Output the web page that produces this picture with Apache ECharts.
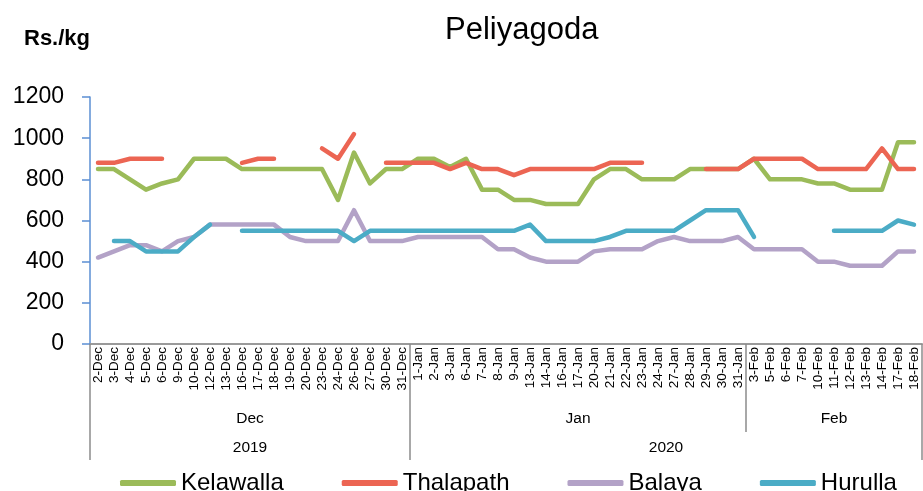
<!DOCTYPE html>
<html>
<head>
<meta charset="utf-8">
<script src="https://cdn.jsdelivr.net/npm/echarts@6/dist/echarts.min.js"></script>
<style>
  html, body { margin: 0; padding: 0; background: #fff; }
  #chart { width: 923px; height: 491px; }
</style>
</head>
<body>
<div id="chart"></div>
<script>
// dates on the axis
var dates = [
    '2-Dec','3-Dec','4-Dec','5-Dec','6-Dec','9-Dec','10-Dec','12-Dec','13-Dec','16-Dec',
    '17-Dec','18-Dec','19-Dec','20-Dec','23-Dec','24-Dec','26-Dec','27-Dec','30-Dec','31-Dec',
    '1-Jan','2-Jan','3-Jan','6-Jan','7-Jan','8-Jan','9-Jan','13-Jan','14-Jan','16-Jan',
    '17-Jan','20-Jan','21-Jan','22-Jan','23-Jan','24-Jan','27-Jan','28-Jan','29-Jan','30-Jan','31-Jan',
    '3-Feb','5-Feb','6-Feb','7-Feb','10-Feb','11-Feb','12-Feb','13-Feb','14-Feb','17-Feb','18-Feb'
];
var months = ['Dec', 'Jan', 'Feb'];
var monthCounts = [20, 21, 11];
var years = ['2019', '2020'];
var yearCounts = [20, 32];

// prices Rs./kg
var kelawalla = [
    850,850,800,750,780,800,900,900,900,850,850,850,850,850,850,700,930,780,850,850,
    900,900,860,900,750,750,700,700,680,680,680,800,850,850,800,800,800,850,850,850,850,
    900,800,800,800,780,780,750,750,750,980,980
];
var thalapath = [
    880,880,900,900,900,null,null,null,null,880,900,900,null,null,950,900,1020,null,880,880,
    880,880,850,880,850,850,820,850,850,850,850,850,880,880,880,null,null,null,850,850,850,
    900,900,900,900,850,850,850,850,950,850,850
];
var balaya = [
    420,450,480,480,450,500,520,580,580,580,580,580,520,500,500,500,650,500,500,500,
    520,520,520,520,520,460,460,420,400,400,400,450,460,460,460,500,520,500,500,500,520,
    460,460,460,460,400,400,380,380,380,450,450
];
var hurulla = [
    null,500,500,450,450,450,520,580,null,550,550,550,550,550,550,550,500,550,550,550,
    550,550,550,550,550,550,550,580,500,500,500,500,520,550,550,550,550,600,650,650,650,
    520,null,null,null,null,550,550,550,550,600,580
];

var names = ['Kelawalla', 'Thalapath', 'Balaya', 'Hurulla'];
var colors = ['#9bbb59', '#ec6553', '#b3a2c7', '#4bacc6'];
var values = [kelawalla, thalapath, balaya, hurulla];

var font = 'Liberation Sans';
var gridLeft = 90, gridRight = 1;
var band = (923 - gridLeft - gridRight) / dates.length;

// group boundaries and label slots (label goes on floor(middle), shifted by the rest)
function groups(labels, counts) {
    var starts = {}, mids = {};
    var s = 0;
    for (var i = 0; i < counts.length; i++) {
        starts[s] = true;
        var m = s + (counts[i] - 1) / 2;
        mids[Math.floor(m)] = { text: labels[i], shift: (m - Math.floor(m)) * band };
        s += counts[i];
    }
    return { starts: starts, mids: mids };
}
var monthG = groups(months, monthCounts);
var yearG = groups(years, yearCounts);

function groupAxis(g, tickLen, labelMargin) {
    return {
        type: 'category',
        gridIndex: 0,
        position: 'bottom',
        offset: 0,
        data: dates,
        axisLine: { show: false },
        axisTick: {
            show: true,
            length: tickLen,
            interval: function (index) { return !!g.starts[index]; },
            lineStyle: { color: '#8c8c8c', width: 1.5 }
        },
        axisLabel: {
            show: true,
            interval: function (index) { return !!g.mids[index]; },
            margin: labelMargin,
            formatter: function (value, index) {
                var m = g.mids[index];
                if (!m) return '';
                return m.shift > 0 ? '{s|' + m.text + '}' : '{n|' + m.text + '}';
            },
            rich: {
                s: { fontFamily: font, fontSize: 15.5, color: '#000', padding: [0, 0, 0, band] },
                n: { fontFamily: font, fontSize: 15.5, color: '#000' }
            }
        },
        splitLine: { show: false }
    };
}

var series = [];
for (var i = 0; i < names.length; i++) {
    series.push({
        name: names[i],
        type: 'line',
        xAxisIndex: 0,
        data: values[i],
        symbol: 'none',
        connectNulls: false,
        color: colors[i],
        lineStyle: { width: 4.5, color: colors[i], cap: 'round', join: 'round' }
    });
}

var myChart = echarts.init(document.getElementById('chart'));

var option = {
    animation: false,
    backgroundColor: '#fff',
    title: [
        { text: 'Peliyagoda', left: 440, top: 10, textStyle: { fontFamily: font, fontSize: 31, fontWeight: 'normal', color: '#000' } },
        { text: 'Rs./kg', left: 19, top: 23, textStyle: { fontFamily: font, fontSize: 22, fontWeight: 'bold', color: '#000' } }
    ],
    grid: { left: gridLeft, right: gridRight, top: 97, bottom: 147, containLabel: false },
    legend: {
        data: names,
        left: 115,
        top: 466,
        icon: 'roundRect',
        itemWidth: 56,
        itemHeight: 6,
        itemGap: 58,
        textStyle: { fontFamily: font, fontSize: 24, color: '#000' }
    },
    xAxis: [
        {
            type: 'category',
            gridIndex: 0,
            position: 'bottom',
            data: dates,
            boundaryGap: true,
            axisLine: { show: true, lineStyle: { color: '#9a9a9a', width: 2 } },
            axisTick: { show: false },
            axisLabel: { interval: 0, rotate: 90, margin: 3, fontFamily: font, fontSize: 13.5, color: '#000' },
            splitLine: { show: false }
        },
        groupAxis(monthG, 88, 67),
        groupAxis(yearG, 116, 96)
    ],
    yAxis: {
        type: 'value',
        min: 0,
        max: 1200,
        interval: 200,
        axisLine: { show: true, lineStyle: { color: '#5b8fd3', width: 1.5 } },
        axisTick: { show: true, length: 8, lineStyle: { color: '#5b8fd3', width: 1.5 } },
        axisLabel: {
            margin: 26, fontFamily: font, fontSize: 23, color: '#000',
            formatter: function (v) { return String(v); }
        },
        splitLine: { show: false }
    },
    series: series
};

myChart.setOption(option);
</script>
</body>
</html>
